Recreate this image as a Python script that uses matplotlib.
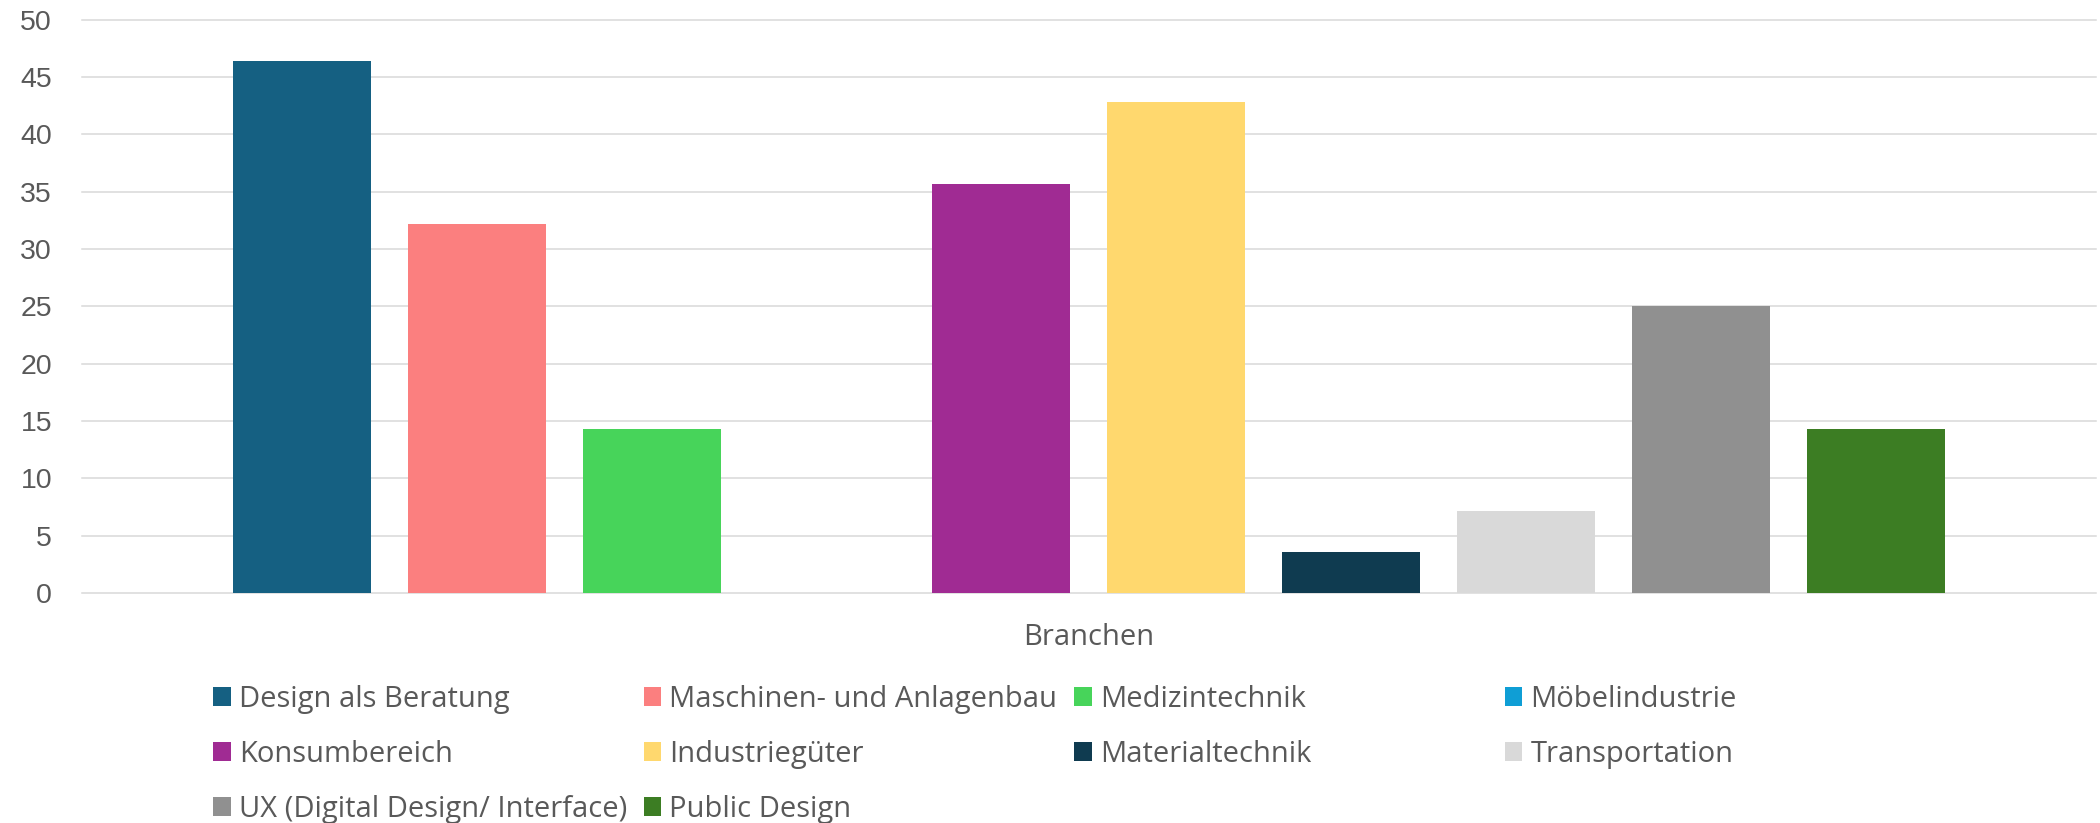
import matplotlib
matplotlib.use("Agg")
import matplotlib.pyplot as plt
from matplotlib.patches import Patch

# ---- data ----
series = ["Design als Beratung", "Maschinen- und Anlagenbau", "Medizintechnik",
          "Möbelindustrie", "Konsumbereich", "Industriegüter", "Materialtechnik",
          "Transportation", "UX (Digital Design/ Interface)", "Public Design"]
values = [46.43, 32.14, 14.29, 0.0, 35.71, 42.86, 3.57, 7.14, 25.0, 14.29]
colors = ["#156082", "#FB7F7F", "#47D45A", "#0F9ED5", "#A02B93",
          "#FFD86E", "#0F3B50", "#D9D9D9", "#909090", "#3C7D23"]
category = "Branchen"
yticks = [0, 5, 10, 15, 20, 25, 30, 35, 40, 45, 50]

W, H = 2100, 823
fig = plt.figure(figsize=(W / 100, H / 100), dpi=100)
ax = fig.add_axes([82 / W, (H - 593) / H, (2096 - 82) / W, (593 - 19.7) / H])

text_col = "#595959"
for i, (name, v, c) in enumerate(zip(series, values, colors)):
    ax.bar(i, v, width=0.789, color=c, label=name, zorder=3)

ax.set_xlim(-1.256, len(series) - 1 + 1.258)
ax.set_ylim(0, 50)
ax.set_yticks(yticks)
ax.set_xticks([])
ax.yaxis.grid(True, color="#d9d9d9", linewidth=1.1, zorder=0)
ax.set_axisbelow(True)
for s in ax.spines.values():
    s.set_visible(False)
ax.tick_params(axis="y", length=0, pad=21.5, labelcolor=text_col, labelsize=20.5)
for lab in ax.get_yticklabels():
    lab.set_fontfamily("Liberation Sans")
for gl in ax.get_ygridlines():
    gl.set_clip_on(False)

fig.text((82 + 2096) / 2 / W, (H - 645) / H, category, ha="center", va="baseline",
         fontsize=21, color=text_col, family="Open Sans")

# legend: uniform column widths like Excel
fs = 21
x0, colw = 213, 430.5
y0, rowh = 699.5, 55
for i, (name, c) in enumerate(zip(series, colors)):
    r, col = divmod(i, 4)
    leg = fig.legend(handles=[Patch(facecolor=c, edgecolor="none")], labels=[name],
                     loc="center left",
                     bbox_to_anchor=((x0 + col * colw) / W, (H - (y0 + r * rowh)) / H),
                     frameon=False, borderpad=0, borderaxespad=0,
                     handlelength=18 / (fs * 1.389), handleheight=18 / (fs * 1.389),
                     handletextpad=8 / (fs * 1.389),
                     prop={"family": "Open Sans", "size": fs})
    for t in leg.get_texts():
        t.set_color(text_col)

fig.savefig("out.png", dpi=100, facecolor="white")
